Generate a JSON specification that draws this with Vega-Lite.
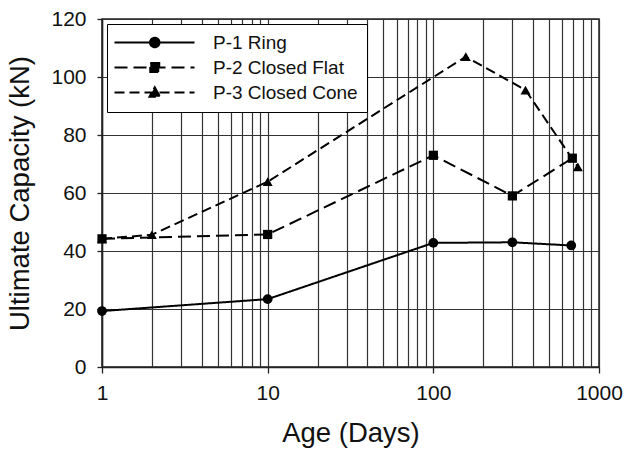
{
  "$schema": "https://vega.github.io/schema/vega-lite/v6.json",
  "width": 497,
  "height": 348,
  "autosize": {"type": "none"},
  "padding": {"left": 102, "top": 19, "right": 27, "bottom": 85},
  "background": "white",
  "config": {
    "font": "Liberation Sans",
    "view": {"stroke": "#222", "strokeWidth": 1.5},
    "axis": {
      "labelFont": "Liberation Sans",
      "titleFont": "Liberation Sans",
      "labelFontSize": 21,
      "titleFontSize": 27.5,
      "titleFontWeight": "normal",
      "labelColor": "#111",
      "titleColor": "#111",
      "gridColor": "#333",
      "gridWidth": 1.2,
      "gridOpacity": 1,
      "domainColor": "#222",
      "domainWidth": 1.5,
      "tickColor": "#222",
      "tickWidth": 1.3,
      "tickSize": 6
    }
  },
  "data": {
    "values": [
      {"series": "P-1 Ring", "age": 1, "capacity": 19.3},
      {"series": "P-1 Ring", "age": 10, "capacity": 23.4},
      {"series": "P-1 Ring", "age": 100, "capacity": 42.8},
      {"series": "P-1 Ring", "age": 300, "capacity": 43.0},
      {"series": "P-1 Ring", "age": 680, "capacity": 41.9},
      {"series": "P-2 Closed Flat", "age": 1, "capacity": 44.2},
      {"series": "P-2 Closed Flat", "age": 10, "capacity": 45.7},
      {"series": "P-2 Closed Flat", "age": 100, "capacity": 73.0},
      {"series": "P-2 Closed Flat", "age": 300, "capacity": 59.0},
      {"series": "P-2 Closed Flat", "age": 690, "capacity": 72.0},
      {"series": "P-3 Closed Cone", "age": 1, "capacity": 44.2},
      {"series": "P-3 Closed Cone", "age": 2, "capacity": 45.6},
      {"series": "P-3 Closed Cone", "age": 10, "capacity": 63.9},
      {"series": "P-3 Closed Cone", "age": 157, "capacity": 107.0},
      {"series": "P-3 Closed Cone", "age": 360, "capacity": 95.5},
      {"series": "P-3 Closed Cone", "age": 745, "capacity": 69.0}
    ]
  },
  "encoding": {
    "x": {
      "field": "age",
      "type": "quantitative",
      "scale": {"type": "log", "domain": [1, 1000], "nice": false},
      "axis": {
        "title": "Age (Days)",
        "values": [1, 2, 3, 4, 5, 6, 7, 8, 9, 10, 20, 30, 40, 50, 60, 70, 80, 90, 100, 200, 300, 400, 500, 600, 700, 800, 900, 1000],
        "labelExpr": "indexof([1, 10, 100, 1000], datum.value) >= 0 ? format(datum.value, 'd') : ''",
        "labelOverlap": false,
        "labelFlush": false,
        "labelPadding": 9,
        "titlePadding": 16,
        "tickOpacity": {"condition": {"test": "indexof([1, 10, 100, 1000], datum.value) >= 0", "value": 1}, "value": 0},
        "grid": true
      }
    },
    "y": {
      "field": "capacity",
      "type": "quantitative",
      "scale": {"domain": [0, 120], "nice": false},
      "axis": {
        "title": "Ultimate Capacity (kN)",
        "values": [0, 20, 40, 60, 80, 100, 120],
        "tickSize": 5,
        "labelPadding": 11,
        "labelFlush": false,
        "titlePadding": 16,
        "grid": true
      }
    }
  },
  "layer": [
    {
      "mark": {"type": "line", "color": "black", "strokeWidth": 2},
      "encoding": {
        "strokeDash": {
          "field": "series",
          "type": "nominal",
          "scale": {"domain": ["P-1 Ring", "P-2 Closed Flat", "P-3 Closed Cone"], "range": [[1, 0], [13, 6], [10, 5]]},
          "legend": {
            "title": null,
            "orient": "none",
            "legendX": 5,
            "legendY": 5,
            "strokeColor": "black",
            "fillColor": "white",
            "padding": 9,
            "labelFont": "Liberation Sans",
            "labelFontSize": 19,
            "labelColor": "#111",
            "labelOffset": 78,
            "rowPadding": 5,
            "symbolSize": 100,
            "symbolStrokeWidth": 2,
            "symbolStrokeColor": "black",
            "symbolFillColor": "black",
            "encode": {
              "symbols": {
                "update": {
                  "shape": {"signal": "datum.value === 'P-1 Ring' ? 'M-2.2,0 H13.8 M4.9,0 A0.95,0.95 0 1,0 6.8,0 A0.95,0.95 0 1,0 4.9,0 Z' : datum.value === 'P-2 Closed Flat' ? 'M-2.2,0 H13.8 M4.95,-0.9 H6.75 V0.9 H4.95 Z' : 'M-2.2,0 H13.8 M5.85,-1.05 L6.9,0.85 L4.8,0.85 Z'"},
                  "fill": {"value": "black"},
                  "stroke": {"value": "black"}
                }
              }
            }
          }
        }
      }
    },
    {
      "transform": [{"filter": "datum.series === 'P-3 Closed Cone'"}],
      "mark": {"type": "point", "shape": "triangle-up", "filled": true, "color": "black", "opacity": 1, "size": 100}
    },
    {
      "transform": [{"filter": "datum.series === 'P-1 Ring'"}],
      "mark": {"type": "point", "shape": "circle", "filled": true, "color": "black", "opacity": 1, "size": 95}
    },
    {
      "transform": [{"filter": "datum.series === 'P-2 Closed Flat'"}],
      "mark": {"type": "point", "shape": "square", "filled": true, "color": "black", "opacity": 1, "size": 85}
    }
  ]
}
